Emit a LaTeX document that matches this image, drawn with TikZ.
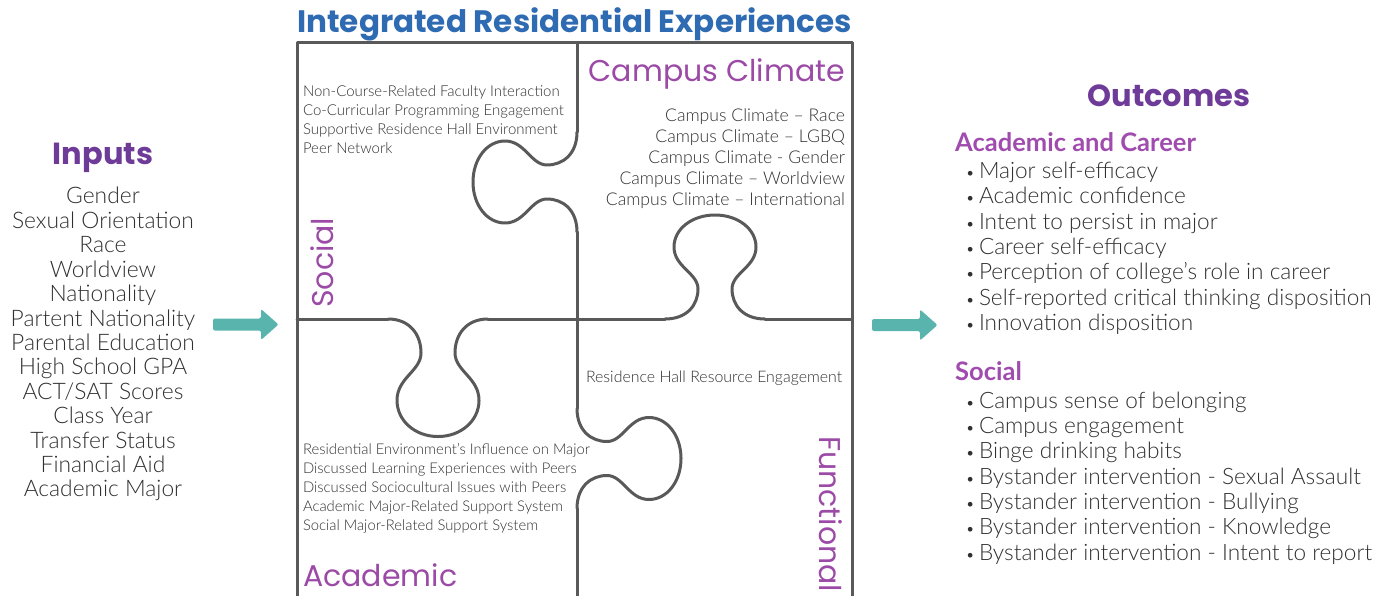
\documentclass[tikz,border=0pt]{standalone}
\usepackage{fontspec}
\setmainfont{Lato Light}
\newfontfamily\headfont{Poppins}
\newfontfamily\subfont{Lato}

\definecolor{titleblue}{HTML}{2E6BB2}
\definecolor{deeppurple}{HTML}{6E3B99}
\definecolor{headpurple}{HTML}{A04CAE}
\definecolor{labelpurple}{HTML}{9B4AA6}
\definecolor{arrowteal}{HTML}{59B4AD}
\definecolor{linegray}{HTML}{595959}
\definecolor{textgray}{HTML}{303030}

\tikzset{
  puzzle/.style={draw=linegray, line width=3bp, line cap=round, line join=round},
  txt/.style={inner sep=0pt, outer sep=0pt, text=textgray},
  inputitem/.style={txt, anchor=base, font=\fontsize{22.8bp}{24bp}\selectfont},
  outitem/.style={txt, anchor=base west, font=\fontsize{22.6bp}{24bp}\selectfont},
  smallitem/.style={txt, font=\fontsize{15bp}{18bp}\selectfont},
  climateitem/.style={txt, anchor=base east, font=\fontsize{17.6bp}{20bp}\selectfont},
  bighead/.style={inner sep=0pt, anchor=base, text=deeppurple, font=\headfont\bfseries\fontsize{30.5bp}{32bp}\selectfont},
  subhead/.style={inner sep=0pt, anchor=base west, text=headpurple, font=\subfont\bfseries\fontsize{25.5bp}{28bp}\selectfont},
  piecelabel/.style={inner sep=0pt, text=labelpurple, font=\headfont\fontsize{30bp}{32bp}\selectfont},
  % one interlocking tab: base edge along x, knob bulging toward +y
  tab/.pic={
    \draw[puzzle] (-50,0) .. controls (-28,0) and (-17,14) .. (-17,30)
      .. controls (-17,46) and (-41,52) .. (-41,72)
      .. controls (-41,90) and (-23,104) .. (0,104)
      .. controls (23,104) and (41,90) .. (41,72)
      .. controls (41,52) and (17,46) .. (17,30)
      .. controls (17,14) and (28,0) .. (50,0);
  }
}

\begin{document}
\begin{tikzpicture}[x=1bp, y=-1bp]
\useasboundingbox (0,0) rectangle (1391,596);
\clip (0,0) rectangle (1391,596);

% ---------- title ----------
\node[inner sep=0pt, anchor=base, text=titleblue,
      font=\headfont\bfseries\fontsize{31bp}{34bp}\selectfont]
  (title) at (574.5,33) {Integrated Residential Experiences};

% ---------- puzzle frame and cuts ----------
\draw[puzzle] (297,600) -- (297,43) -- (852,43) -- (852,600);
\draw[puzzle] (577,43) -- (577,132);
\draw[puzzle] (577,232) -- (577,408.5);
\draw[puzzle] (577,508.5) -- (577,600);
\draw[puzzle] (297,319) -- (388,319);
\draw[puzzle] (488,319) -- (665,319);
\draw[puzzle] (765,319) -- (852,319);
\pic[rotate=-90] at (577,182) {tab};
\pic[rotate=90] at (577,458.5) {tab};
\pic[yscale=1.13] at (438,319) {tab};
\pic[rotate=180] at (715,319) {tab};

% ---------- piece labels ----------
\node[piecelabel, anchor=base east] (lclimate) at (845,82) {Campus Climate};
\node[piecelabel, anchor=base west, rotate=90] (lsocial) at (333.5,308) {Social};
\node[piecelabel, anchor=base west] (lacademic) at (303,586) {Academic};
\node[piecelabel, anchor=base west, rotate=-90] (lfunctional) at (819,436) {Functional};

% ---------- piece contents ----------
\foreach \t [count=\i from 0] in {Non-Course-Related Faculty Interaction,
    Co-Curricular Programming Engagement,
    Supportive Residence Hall Environment,
    Peer Network}
  \node[smallitem, anchor=base west] (soc\i) at (303,{96.7+19.1*\i}) {\t};

\foreach \t [count=\i from 0] in {Campus Climate – Race,
    Campus Climate – LGBQ,
    Campus Climate - Gender,
    Campus Climate – Worldview,
    Campus Climate – International}
  \node[climateitem] (clim\i) at (845,{121.5+21*\i}) {\t};

\node[txt, anchor=base west, font=\fontsize{15.9bp}{18bp}\selectfont]
  (func0) at (586,382) {Residence Hall Resource Engagement};

\foreach \t [count=\i from 0] in {Residential Environment's Influence on Major,
    Discussed Learning Experiences with Peers,
    Discussed Sociocultural Issues with Peers,
    Academic Major-Related Support System,
    Social Major-Related Support System}
  \node[smallitem, anchor=base west, font=\fontsize{14.8bp}{18bp}\selectfont]
    (acad\i) at (303,{454+19*\i}) {\t};

% ---------- inputs ----------
\node[bighead] (inputs) at (103,165) {Inputs};
\foreach \t [count=\i from 0] in {Gender, Sexual Orientation, Race, Worldview,
    Nationality, Partent Nationality, Parental Education, High School GPA,
    ACT/SAT Scores, Class Year, Transfer Status, Financial Aid, Academic Major}
  \node[inputitem] (in\i) at (103,{204+24.4*\i}) {\t};

% ---------- outcomes ----------
\node[bighead] (outcomes) at (1169,106.7) {Outcomes};
\node[subhead] (hacad) at (955,151.7) {Academic and Career};
\foreach \t [count=\i from 0] in {Major self-efficacy, Academic confidence,
    Intent to persist in major, Career self-efficacy,
    Perception of college’s role in career,
    Self-reported critical thinking disposition, Innovation disposition}
  \node[outitem] (oa\i) at (979,{178.3+25.35*\i}) {\llap{\fontsize{16bp}{16bp}\selectfont•\hspace{4bp}}\t};
\node[subhead] (hsoc) at (955,380.7) {Social};
\foreach \t [count=\i from 0] in {Campus sense of belonging, Campus engagement,
    Binge drinking habits, Bystander intervention - Sexual Assault,
    Bystander intervention - Bullying, Bystander intervention - Knowledge,
    Bystander intervention - Intent to report}
  \node[outitem] (os\i) at (979,{408.3+25.3*\i}) {\llap{\fontsize{16bp}{16bp}\selectfont•\hspace{4bp}}\t};

% ---------- flow arrows ----------
\coordinate (arrowInTip) at (278.5,324.5);
\coordinate (arrowOutTip) at (937.5,325);
\fill[arrowteal, rounded corners=2bp]
  (213,318.5) -- (261,318.5) -- (261,309) -- (arrowInTip)
  -- (261,340) -- (261,330.5) -- (213,330.5) -- cycle;
\fill[arrowteal, rounded corners=2bp]
  (872,319) -- (920,319) -- (920,309.5) -- (arrowOutTip)
  -- (920,340.5) -- (920,331) -- (872,331) -- cycle;
\end{tikzpicture}
\end{document}
